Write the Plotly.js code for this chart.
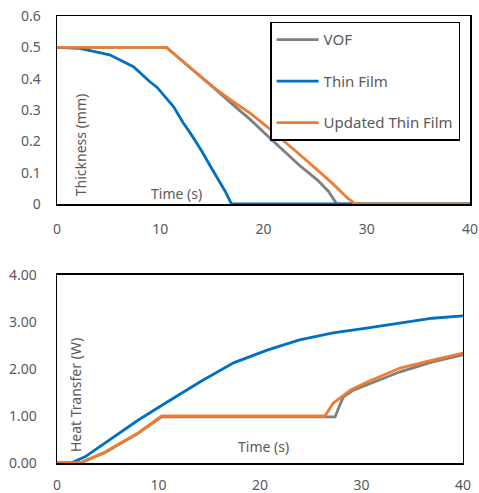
<!DOCTYPE html>
<html>
<head>
<meta charset="utf-8">
<script src="https://cdn.plot.ly/plotly-3.0.1.min.js"></script>
<style>html,body{margin:0;padding:0;background:#fff;}#chart{width:479px;height:493px;}</style>
</head>
<body>
<div id="chart"></div>
<script>
// ---- Top chart: film thickness (mm) vs time (s)
const thickVofT = [0, 10.6, 12.2, 14, 15.5, 17, 18.7, 20.3, 21.9, 23.5, 25.2, 26.3, 27.1, 40];
const thickVof  = [0.5, 0.5, 0.455, 0.405, 0.362, 0.318, 0.27, 0.22, 0.17, 0.123, 0.077, 0.04, 0, 0];
const thickThinT = [0, 2.2, 5.1, 7.4, 9.0, 9.7, 11.3, 12.2, 12.9, 14.0, 14.9, 15.5, 16.3, 16.9, 40];
const thickThin  = [0.5, 0.497, 0.476, 0.438, 0.39, 0.372, 0.31, 0.26, 0.227, 0.17, 0.118, 0.085, 0.04, 0, 0];
const thickUpdT = [0, 10.6, 12.2, 14, 15.5, 17, 18.7, 20.3, 21.9, 23.5, 25.2, 26.7, 28.1, 28.9, 40];
const thickUpd  = [0.5, 0.5, 0.455, 0.405, 0.364, 0.328, 0.29, 0.248, 0.204, 0.158, 0.109, 0.065, 0.02, 0, 0];

// ---- Bottom chart: heat transfer (W) vs time (s)
const heatVofT = [0, 1.5, 2.5, 4.7, 6.3, 8.0, 10.3, 24.2, 27.4, 27.8, 28.2, 29.2, 30.5, 33.8, 37.0, 40];
const heatVof  = [0, 0, 0.02, 0.22, 0.42, 0.63, 0.98, 0.98, 0.98, 1.2, 1.4, 1.55, 1.66, 1.94, 2.15, 2.3];
const heatThinT = [0, 1.5, 2.76, 4.73, 6.3, 7.98, 10.34, 12.3, 14.2, 17.4, 20.7, 23.9, 27.2, 30.5, 33.8, 37.0, 40];
const heatThin  = [0, 0.01, 0.13, 0.43, 0.66, 0.91, 1.23, 1.49, 1.74, 2.13, 2.40, 2.62, 2.77, 2.87, 2.98, 3.08, 3.13];
const heatUpdT = [0, 1.5, 2.5, 4.7, 6.3, 8.0, 10.3, 26.4, 27.2, 28.9, 30.5, 33.8, 37.0, 40];
const heatUpd  = [0, 0, 0.02, 0.23, 0.43, 0.64, 1.0, 1.0, 1.27, 1.55, 1.72, 2.02, 2.19, 2.34];

const seriesNames = ["VOF", "Thin Film", "Updated Thin Film"];
const colors = ["#7F7F7F", "#0070C0", "#ED7D31"];

const xTicks = [0, 10, 20, 30, 40];
const thickTicks = [0, 0.1, 0.2, 0.3, 0.4, 0.5, 0.6];
const heatTicks = [0, 1, 2, 3, 4];

const FONT = "Noto Sans, Open Sans, sans-serif";
const TXT = "#595959";

function tr(x, y, i, xa, ya, legend) {
  return {
    x: x, y: y, type: "scatter", mode: "lines", name: seriesNames[i],
    line: {color: colors[i], width: 2.8},
    xaxis: xa, yaxis: ya, showlegend: legend, legendgroup: "g" + i
  };
}

const data = [
  tr(thickVofT, thickVof, 0, "x", "y", true),
  tr(thickThinT, thickThin, 1, "x", "y", true),
  tr(thickUpdT, thickUpd, 2, "x", "y", true),
  tr(heatVofT, heatVof, 0, "x2", "y2", false),
  tr(heatThinT, heatThin, 1, "x2", "y2", false),
  tr(heatUpdT, heatUpd, 2, "x2", "y2", false)
];

const axBase = {
  showgrid: false, zeroline: false, showline: true, mirror: true,
  linecolor: "#000", linewidth: 1.5,
  ticks: "outside", tickcolor: "rgba(0,0,0,0)",
  tickfont: {family: FONT, size: 14, color: TXT}
};

const annFont = {family: FONT, size: 14, color: TXT};

const layout = {
  width: 479, height: 493,
  margin: {l: 57, r: 9, t: 16, b: 30},
  paper_bgcolor: "#fff", plot_bgcolor: "#fff",
  font: {family: FONT, size: 14, color: TXT},
  xaxis: Object.assign({}, axBase, {domain: [0, 1], range: [0, 40], tickvals: xTicks, ticklen: 12, anchor: "y"}),
  yaxis: Object.assign({}, axBase, {domain: [0.5794, 1], range: [0, 0.6], tickvals: thickTicks, ticktext: thickTicks.map(String), ticklen: 12, anchor: "x"}),
  xaxis2: Object.assign({}, axBase, {domain: [0, 0.983], range: [0, 40], tickvals: xTicks, ticklen: 9, anchor: "y2"}),
  yaxis2: Object.assign({}, axBase, {domain: [0, 0.4206], range: [0, 4], tickvals: heatTicks, ticktext: heatTicks.map(v => v.toFixed(2)), ticklen: 16, anchor: "x2"}),
  showlegend: true,
  legend: {
    x: 0.516, xanchor: "left", y: 0.987, yanchor: "top",
    bgcolor: "#fff", bordercolor: "#000", borderwidth: 1.5,
    font: {family: FONT, size: 15, color: TXT},
    tracegroupgap: 19, traceorder: "grouped", itemwidth: 42
  },
  annotations: [
    {text: "Thickness (mm)", xref: "paper", yref: "paper", x: 0.0557, y: 0.711, xanchor: "center", yanchor: "middle", textangle: -90, showarrow: false, font: annFont},
    {text: "Time (s)", xref: "paper", yref: "paper", x: 0.29, y: 0.604, xanchor: "center", yanchor: "middle", showarrow: false, font: annFont},
    {text: "Heat Transfer (W)", xref: "paper", yref: "paper", x: 0.0436, y: 0.152, xanchor: "center", yanchor: "middle", textangle: -90, showarrow: false, font: annFont},
    {text: "Time (s)", xref: "paper", yref: "paper", x: 0.499, y: 0.036, xanchor: "center", yanchor: "middle", showarrow: false, font: annFont}
  ]
};

Plotly.newPlot("chart", data, layout, {displayModeBar: false, staticPlot: true});
</script>
</body>
</html>
